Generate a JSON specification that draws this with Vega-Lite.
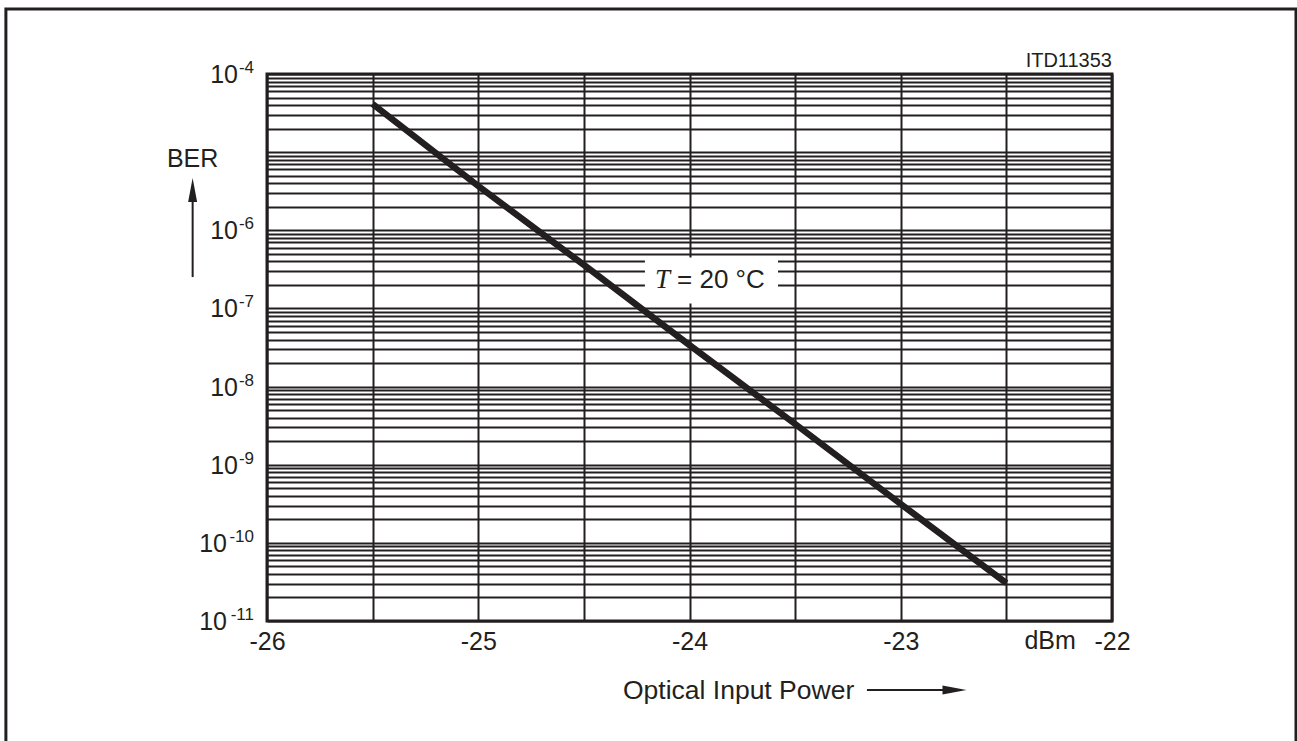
{
  "$schema": "https://vega.github.io/schema/vega-lite/v6.json",
  "width": 845,
  "height": 547,
  "autosize": {"type": "none"},
  "padding": {"left": 267, "top": 74, "right": 185, "bottom": 120},
  "background": "white",
  "config": {
    "view": {"stroke": "#231f20", "strokeWidth": 3},
    "font": "Liberation Sans",
    "text": {"font": "Liberation Sans", "color": "#231f20"}
  },
  "layer": [
    {
      "data": {"values": [
        {"p": -25.5, "ber": 4.13e-5},
        {"p": -25.0, "ber": 3.69e-6},
        {"p": -24.5, "ber": 3.6e-7},
        {"p": -24.0, "ber": 3.4e-8},
        {"p": -23.5, "ber": 3.32e-9},
        {"p": -23.0, "ber": 3.14e-10},
        {"p": -22.5, "ber": 3.06e-11}
      ]},
      "mark": {"type": "line", "color": "#231f20", "strokeWidth": 6.5, "strokeCap": "butt"},
      "encoding": {
        "x": {"field": "p", "type": "quantitative",
          "scale": {"domain": [-26, -22], "nice": false, "zero": false},
          "axis": {"values": [-26, -25.5, -25, -24.5, -24, -23.5, -23, -22.5, -22],
            "labelExpr": "datum.value % 1 == 0 ? '' + datum.value : ''",
            "labelFontSize": 25, "labelColor": "#231f20", "labelPadding": 8,
            "labelFont": "Liberation Sans",
            "ticks": false, "domain": false, "grid": true, "gridColor": "#231f20",
            "gridWidth": 2, "gridOpacity": 1, "labelFlush": false, "labelOverlap": false,
            "labelBound": false, "title": null}},
        "y": {"field": "ber", "type": "quantitative",
          "scale": {"type": "log", "domain": [1e-11, 1e-4], "nice": false},
          "axis": {"values": [1e-11, 2e-11, 3e-11, 4e-11, 5e-11, 6e-11, 7e-11, 8e-11, 9e-11,
              1e-10, 2e-10, 3e-10, 4e-10, 5e-10, 6e-10, 7e-10, 8e-10, 9e-10,
              1e-9, 2e-9, 3e-9, 4e-9, 5e-9, 6e-9, 7e-9, 8e-9, 9e-9,
              1e-8, 2e-8, 3e-8, 4e-8, 5e-8, 6e-8, 7e-8, 8e-8, 9e-8,
              1e-7, 2e-7, 3e-7, 4e-7, 5e-7, 6e-7, 7e-7, 8e-7, 9e-7,
              1e-6, 2e-6, 3e-6, 4e-6, 5e-6, 6e-6, 7e-6, 8e-6, 9e-6,
              1e-5, 2e-5, 3e-5, 4e-5, 5e-5, 6e-5, 7e-5, 8e-5, 9e-5, 1e-4],
            "labels": false, "ticks": false, "domain": false, "grid": true,
            "gridColor": "#231f20", "gridWidth": 2, "gridOpacity": 1, "title": null}}
      }
    },
    {
      "data": {"values": [{"p": -24.211, "p2": -23.581, "ber": 4.5e-7, "ber2": 1.16e-7}]},
      "mark": {"type": "rect", "fill": "white", "stroke": null},
      "encoding": {
        "x": {"field": "p", "type": "quantitative"},
        "x2": {"field": "p2"},
        "y": {"field": "ber", "type": "quantitative"},
        "y2": {"field": "ber2"}
      }
    },
    {
      "data": {"values": [{"p": -27.236, "p2": -21.129, "ber": 6.79e-4, "ber2": 1e-13}]},
      "mark": {"type": "rect", "fillOpacity": 0, "stroke": "#231f20", "strokeWidth": 3},
      "encoding": {
        "x": {"field": "p", "type": "quantitative"},
        "x2": {"field": "p2"},
        "y": {"field": "ber", "type": "quantitative"},
        "y2": {"field": "ber2"}
      }
    },
    {
      "data": {"name": "decades", "values": [
        {"p": -26, "ber": 1e-4, "sup": "-4", "e": -4},
        {"p": -26, "ber": 1e-6, "sup": "-6", "e": -6},
        {"p": -26, "ber": 1e-7, "sup": "-7", "e": -7},
        {"p": -26, "ber": 1e-8, "sup": "-8", "e": -8},
        {"p": -26, "ber": 1e-9, "sup": "-9", "e": -9},
        {"p": -26, "ber": 1e-10, "sup": "-10", "e": -10},
        {"p": -26, "ber": 1e-11, "sup": "-11", "e": -11}
      ]},
      "layer": [
        {
          "transform": [{"filter": "datum.e >= -9"}],
          "mark": {"type": "text", "align": "right", "baseline": "middle", "fontSize": 25, "dx": -29, "dy": 1},
          "encoding": {
            "x": {"field": "p", "type": "quantitative"},
            "y": {"field": "ber", "type": "quantitative"},
            "text": {"value": "10"}
          }
        },
        {
          "transform": [{"filter": "datum.e <= -10"}],
          "mark": {"type": "text", "align": "right", "baseline": "middle", "fontSize": 25, "dx": -40, "dy": 1},
          "encoding": {
            "x": {"field": "p", "type": "quantitative"},
            "y": {"field": "ber", "type": "quantitative"},
            "text": {"value": "10"}
          }
        },
        {
          "mark": {"type": "text", "align": "right", "baseline": "middle", "fontSize": 17, "dx": -13, "dy": -6},
          "encoding": {
            "x": {"field": "p", "type": "quantitative"},
            "y": {"field": "ber", "type": "quantitative"},
            "text": {"field": "sup"}
          }
        }
      ]
    },
    {
      "data": {"values": [{"p": -22, "ber": 1.229e-4, "label": "ITD11353"}]},
      "mark": {"type": "text", "align": "right", "baseline": "alphabetic", "fontSize": 20},
      "encoding": {
        "x": {"field": "p", "type": "quantitative"},
        "y": {"field": "ber", "type": "quantitative"},
        "text": {"field": "label"}
      }
    },
    {
      "data": {"values": [{"p": -26.352, "ber": 8.17e-6, "label": "BER"}]},
      "mark": {"type": "text", "align": "center", "baseline": "middle", "fontSize": 25},
      "encoding": {
        "x": {"field": "p", "type": "quantitative"},
        "y": {"field": "ber", "type": "quantitative"},
        "text": {"field": "label"}
      }
    },
    {
      "data": {"values": [{"p": -22.293, "ber": 1e-11, "label": "dBm"}]},
      "mark": {"type": "text", "align": "center", "baseline": "top", "fontSize": 25, "dy": 8},
      "encoding": {
        "x": {"field": "p", "type": "quantitative"},
        "y": {"field": "ber", "type": "quantitative"},
        "text": {"field": "label"}
      }
    },
    {
      "data": {"values": [{"p": -24.315, "ber": 1.0e-12, "label": "Optical Input Power"}]},
      "mark": {"type": "text", "align": "left", "baseline": "alphabetic", "fontSize": 26.5},
      "encoding": {
        "x": {"field": "p", "type": "quantitative"},
        "y": {"field": "ber", "type": "quantitative"},
        "text": {"field": "label"}
      }
    },
    {
      "data": {"values": [{"p": -24.128, "ber": 2.29e-7, "label": "T"}]},
      "mark": {"type": "text", "align": "center", "baseline": "middle", "fontSize": 27, "font": "Liberation Serif", "fontStyle": "italic"},
      "encoding": {
        "x": {"field": "p", "type": "quantitative"},
        "y": {"field": "ber", "type": "quantitative"},
        "text": {"field": "label"}
      }
    },
    {
      "data": {"values": [{"p": -24.059, "ber": 2.29e-7, "label": "= 20 °C"}]},
      "mark": {"type": "text", "align": "left", "baseline": "middle", "fontSize": 26},
      "encoding": {
        "x": {"field": "p", "type": "quantitative"},
        "y": {"field": "ber", "type": "quantitative"},
        "text": {"field": "label"}
      }
    },
    {
      "data": {"values": [{"p": -23.16, "p2": -22.74, "ber": 1.31e-12}]},
      "mark": {"type": "rule", "color": "#231f20", "strokeWidth": 2},
      "encoding": {
        "x": {"field": "p", "type": "quantitative"},
        "x2": {"field": "p2"},
        "y": {"field": "ber", "type": "quantitative"}
      }
    },
    {
      "data": {"values": [{"p": -26.352, "ber": 2.52e-7, "ber2": 3.0e-6}]},
      "mark": {"type": "rule", "color": "#231f20", "strokeWidth": 2},
      "encoding": {
        "x": {"field": "p", "type": "quantitative"},
        "y": {"field": "ber", "type": "quantitative"},
        "y2": {"field": "ber2"}
      }
    },
    {
      "data": {"values": [{"p": -22.7456, "ber": 1.31e-12}]},
      "mark": {"type": "point", "filled": true, "color": "#231f20", "opacity": 1, "size": 576, "shape": "M -1 -0.375 L 1 0 L -1 0.375 Z"},
      "encoding": {
        "x": {"field": "p", "type": "quantitative"},
        "y": {"field": "ber", "type": "quantitative"}
      }
    },
    {
      "data": {"values": [{"p": -26.352, "ber": 3.28e-6}]},
      "mark": {"type": "point", "filled": true, "color": "#231f20", "opacity": 1, "size": 576, "shape": "M -0.375 1 L 0 -1 L 0.375 1 Z"},
      "encoding": {
        "x": {"field": "p", "type": "quantitative"},
        "y": {"field": "ber", "type": "quantitative"}
      }
    }
  ]
}
